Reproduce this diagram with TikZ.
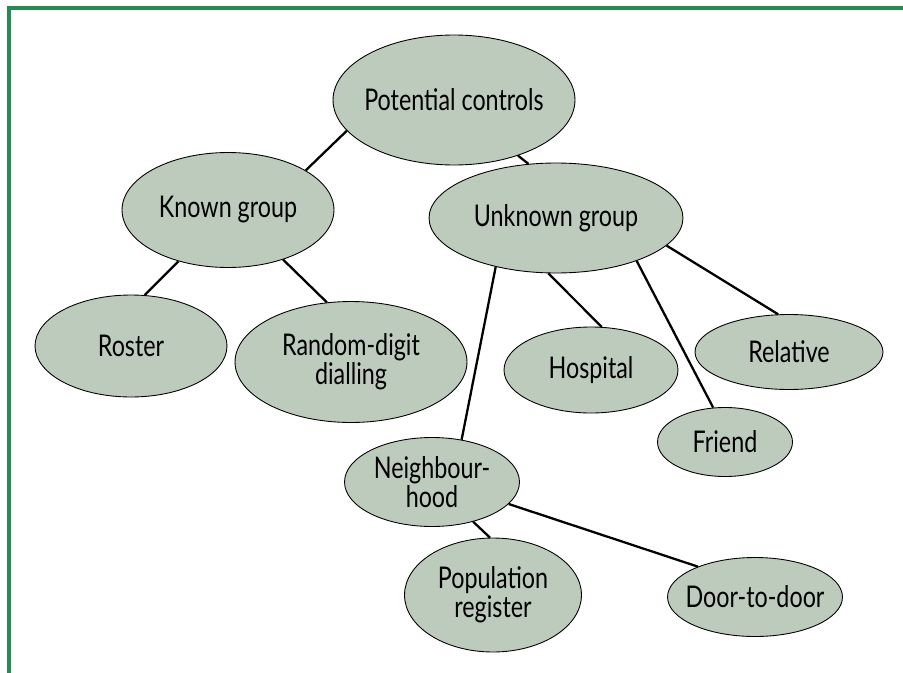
\documentclass[tikz,border=0pt]{standalone}
\usepackage{fontspec}
\setmainfont[FakeStretch=0.78]{Lato}
\usepackage{xcolor}
\usepackage{tikz}
\usetikzlibrary{shapes.geometric}

\definecolor{sage}{RGB}{188,203,188}
\definecolor{framegreen}{RGB}{38,138,84}

\tikzset{
  ctrl/.style={ellipse,draw=black,line width=0.5pt,fill=sage,inner ysep=0pt,
               inner xsep=-0.3cm,align=center,font=\fontsize{17}{16.5}\selectfont},
  link/.style={line width=1.3pt,black}
}

\begin{document}
\begin{tikzpicture}[x=0.02cm,y=-0.02cm]
\useasboundingbox (0,0) rectangle (903,673);
\draw[framegreen,line width=1.8pt] (9,673) -- (9,8) -- (903,8);

\node[ctrl,minimum width=4.84cm,minimum height=2.6cm]  (pc)      at (454,100) {Potential controls};
\node[ctrl,minimum width=4.24cm,minimum height=2.3cm]  (known)   at (228,210) {Known group};
\node[ctrl,minimum width=5.08cm,minimum height=2.2cm]  (unknown) at (556,218) {Unknown group};
\node[ctrl,minimum width=3.84cm,minimum height=2.04cm] (roster)  at (131,346) {Roster};
\node[ctrl,minimum width=4.64cm,minimum height=2.42cm] (rdd)     at (351,362) {Random-digit\\dialling};
\node[ctrl,minimum width=3.48cm,minimum height=1.72cm] (hosp)    at (591,370) {Hospital};
\node[ctrl,minimum width=3.76cm,minimum height=1.5cm]  (rel)     at (789,352) {Relative};
\node[ctrl,minimum width=2.7cm,minimum height=1.38cm]  (friend)  at (725,442) {Friend};
\node[ctrl,minimum width=3.5cm,minimum height=1.78cm]  (nbh)     at (432,482) {Neighbour-\\hood};
\node[ctrl,minimum width=3.54cm,minimum height=2.28cm] (popreg)  at (493,595) {Population\\register};
\node[ctrl,minimum width=3.5cm,minimum height=1.58cm]  (door)    at (755,597) {Door-to-door};

\path[link] (pc.196)      edge (known.27)
            (pc.319)      edge (unknown.117)
            (known.226)   edge (roster.75)
            (known.318)   edge (rdd.112)
            (unknown.219) edge (nbh.55)
            (unknown.262) edge (hosp.76)
            (unknown.332) edge (friend.109)
            (unknown.346) edge (rel.106)
            (nbh.316)     edge (popreg.93)
            (nbh.344)     edge (door.152);

\end{tikzpicture}
\end{document}
